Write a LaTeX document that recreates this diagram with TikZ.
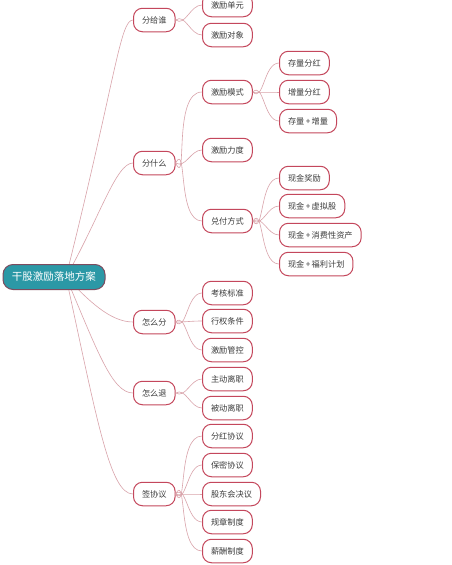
\documentclass[tikz,border=0pt]{standalone}
\usepackage{fontspec}
\setmainfont{Noto Sans CJK SC}
\definecolor{nodeborder}{HTML}{C4475C}
\definecolor{linkc}{HTML}{D9A3AA}
\definecolor{txtc}{HTML}{3C3C3C}
\definecolor{rootfill}{HTML}{2B98A6}
\definecolor{rootborder}{HTML}{7D4B5E}
\tikzset{
  topic/.style={draw=nodeborder, line width=1pt, fill=white, rounded corners=9pt,
    minimum height=23.5pt, inner xsep=8.5pt, inner ysep=0pt, text=txtc,
    font=\fontsize{8.2}{9}\selectfont, anchor=west},
  rootbox/.style={draw=rootborder, line width=1pt, fill=rootfill, rounded corners=10pt,
    minimum height=25pt, minimum width=102pt, inner xsep=6pt, text=white,
    font=\fontsize{10.5}{12}\selectfont},
  link/.style={draw=linkc, line width=0.6pt}
}
\begin{document}
\begin{tikzpicture}[x=1pt,y=-1pt]
\useasboundingbox (0,0) rectangle (451,565);
\clip (0,0) rectangle (451,565);
\fill[white] (0,0) rectangle (451,565);
% level 1
\node[topic] (who) at (133,20) {分给谁};
\node[topic] (what) at (133,163) {分什么};
\node[topic] (how) at (133,322) {怎么分};
\node[topic] (quit) at (133,393) {怎么退};
\node[topic] (sign) at (133,494) {签协议};
% level 2
\node[topic] (unit) at (202,5) {激励单元};
\node[topic] (obj) at (202,35) {激励对象};
\node[topic] (mode) at (202,92) {激励模式};
\node[topic] (force) at (202,150) {激励力度};
\node[topic] (pay) at (202,221) {兑付方式};
\node[topic] (assess) at (202,293) {考核标准};
\node[topic] (cond) at (202,321) {行权条件};
\node[topic] (ctrl) at (202,350) {激励管控};
\node[topic] (active) at (202,379) {主动离职};
\node[topic] (passive) at (202,408) {被动离职};
\node[topic] (divp) at (202,436) {分红协议};
\node[topic] (secret) at (202,465) {保密协议};
\node[topic] (board) at (202,494) {股东会决议};
\node[topic] (rules) at (202,522) {规章制度};
\node[topic] (salary) at (202,551) {薪酬制度};
% level 3
\node[topic] (stock) at (279,63) {存量分红};
\node[topic] (incr) at (279,92) {增量分红};
\node[topic] (both) at (279,121) {存量{\,}+{\,}增量};
\node[topic] (cash) at (279,178) {现金奖励};
\node[topic] (virt) at (279,206) {现金{\,}+{\,}虚拟股};
\node[topic] (cons) at (279,235) {现金{\,}+{\,}消费性资产};
\node[topic] (welf) at (279,264) {现金{\,}+{\,}福利计划};
% root connectors
\coordinate (rootc) at (66,277);
\draw[link] (rootc) .. controls (116,77) and (120,20) .. (who.west);
\draw[link] (rootc) .. controls (100,217) and (116,163) .. (what.west);
\draw[link] (rootc) .. controls (88,300) and (110,322) .. (how.west);
\draw[link] (rootc) .. controls (97,350) and (112,393) .. (quit.west);
\draw[link] (rootc) .. controls (97,420) and (110,494) .. (sign.west);
\node[rootbox] (root) at (54,277) {干股激励落地方案};
% level 1 -> 2
\draw[link] (who.east) to[out=-35,in=180] (unit.west);
\draw[link] (who.east) to[out=35,in=180] (obj.west);
\draw[link] (what.east) to[out=-65,in=180] (mode.west);
\draw[link] (what.east) to[out=-30,in=180] (force.west);
\draw[link] (what.east) to[out=62,in=180] (pay.west);
\draw[link] (how.east) to[out=-45,in=180] (assess.west);
\draw[link] (how.east) to[out=0,in=180] (cond.west);
\draw[link] (how.east) to[out=45,in=180] (ctrl.west);
\draw[link] (quit.east) to[out=-30,in=180] (active.west);
\draw[link] (quit.east) to[out=30,in=180] (passive.west);
\draw[link] (sign.east) to[out=-62,in=180] (divp.west);
\draw[link] (sign.east) to[out=-45,in=180] (secret.west);
\draw[link] (sign.east) to[out=0,in=180] (board.west);
\draw[link] (sign.east) to[out=45,in=180] (rules.west);
\draw[link] (sign.east) to[out=62,in=180] (salary.west);
% level 2 -> 3
\draw[link] (mode.east) to[out=-45,in=180] (stock.west);
\draw[link] (mode.east) to[out=0,in=180] (incr.west);
\draw[link] (mode.east) to[out=45,in=180] (both.west);
\draw[link] (pay.east) to[out=-55,in=180] (cash.west);
\draw[link] (pay.east) to[out=-30,in=180] (virt.west);
\draw[link] (pay.east) to[out=30,in=180] (cons.west);
\draw[link] (pay.east) to[out=55,in=180] (welf.west);
\end{tikzpicture}
\end{document}
